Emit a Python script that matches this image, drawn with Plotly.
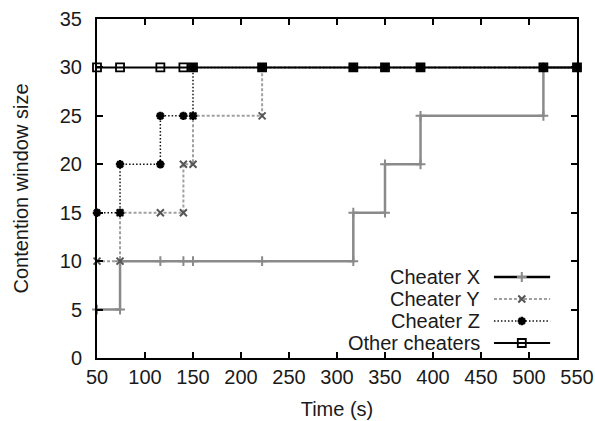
import plotly.graph_objects as go

# Contention window size of each cheating node over time (step traces)
time_x = [50, 74, 74, 116, 140, 150, 222, 317, 317, 350, 350, 387, 387, 515, 515, 550]
cw_x = [5, 5, 10, 10, 10, 10, 10, 10, 15, 15, 20, 20, 25, 25, 30, 30]

time_y = [50, 74, 74, 116, 140, 140, 150, 150, 222, 222, 317, 350, 387, 515, 550]
cw_y = [10, 10, 15, 15, 15, 20, 20, 25, 25, 30, 30, 30, 30, 30, 30]

time_z = [50, 74, 74, 116, 116, 140, 150, 150, 222, 317, 350, 387, 515, 550]
cw_z = [15, 15, 20, 20, 25, 25, 25, 30, 30, 30, 30, 30, 30, 30]

time_other = [50, 74, 116, 140, 150, 222, 317, 350, 387, 515, 550]
cw_other = [30, 30, 30, 30, 30, 30, 30, 30, 30, 30, 30]

series_names = ["Cheater X", "Cheater Y", "Cheater Z", "Other cheaters"]
x_ticks = [50, 100, 150, 200, 250, 300, 350, 400, 450, 500, 550]
y_ticks = [0, 5, 10, 15, 20, 25, 30, 35]

FONT = "Liberation Sans, Arial, Helvetica, sans-serif"
TEXT = "#1a1a1a"

styles = [
    dict(line=dict(color="#8a8a8a", width=2.5),
         marker=dict(symbol="cross-thin-open", size=7, color="#8a8a8a",
                     line=dict(color="#8a8a8a", width=2))),
    dict(line=dict(color="#a0a0a0", width=2, dash="3px,2px"),
         marker=dict(symbol="x-thin-open", size=7, color="#555555",
                     line=dict(color="#555555", width=2))),
    dict(line=dict(color="#111111", width=1.5, dash="1.5px,2px"),
         marker=dict(symbol="asterisk-open", size=7, color="#000000",
                     line=dict(color="#000000", width=2.5))),
    dict(line=dict(color="#000000", width=2),
         marker=dict(symbol="square-open", size=8, color="#000000",
                     line=dict(color="#000000", width=1.8))),
]
legend_line_colors = ["#000000", "#a0a0a0", "#111111", "#000000"]

data = [(time_x, cw_x), (time_y, cw_y), (time_z, cw_z), (time_other, cw_other)]

fig = go.Figure()
for (t, cw), name, st in zip(data, series_names, styles):
    fig.add_trace(go.Scatter(
        x=t, y=cw, name=name, mode="lines+markers",
        line=st["line"], marker=st["marker"], cliponaxis=False, showlegend=False,
    ))

# Key in the lower right: label text on the left, line sample on the right
key_rows = [0.2389, 0.1740, 0.1091, 0.0442]
for name, st, lc, yk in zip(series_names, styles, legend_line_colors, key_rows):
    fig.add_annotation(x=0.802, y=yk, xref="paper", yref="paper", text=name,
                       showarrow=False, xanchor="right", yanchor="middle",
                       font=dict(family=FONT, size=20, color=TEXT))
    line = dict(st["line"])
    line["color"] = lc
    fig.add_trace(go.Scatter(
        x=[0.827, 0.944], y=[yk, yk], xaxis="x2", yaxis="y2", mode="lines",
        line=line, showlegend=False, hoverinfo="skip"))
    fig.add_trace(go.Scatter(
        x=[0.885], y=[yk], xaxis="x2", yaxis="y2", mode="markers",
        marker=st["marker"], showlegend=False, hoverinfo="skip"))

axis_common = dict(
    showline=True, linecolor="#000000", linewidth=2, mirror="allticks",
    ticks="inside", ticklen=6, tickwidth=2, tickcolor="#000000",
    showgrid=False, zeroline=False, automargin=False,
    tickfont=dict(family=FONT, size=20, color=TEXT),
)

fig.update_layout(
    width=595, height=421,
    margin=dict(l=97, r=18, t=19, b=63),
    paper_bgcolor="white", plot_bgcolor="white",
    font=dict(family=FONT, size=20, color=TEXT),
    xaxis=dict(range=[50, 550], tickvals=x_ticks, ticklabelstandoff=0,
               title=dict(text="Time (s)", font=dict(family=FONT, size=20, color=TEXT)),
               **axis_common),
    yaxis=dict(range=[0, 35], tickvals=y_ticks, ticklabelstandoff=9,
               title=dict(text="Contention window size", standoff=26,
                          font=dict(family=FONT, size=20, color=TEXT)),
               **axis_common),
    xaxis2=dict(range=[0, 1], overlaying="x", visible=False),
    yaxis2=dict(range=[0, 1], overlaying="y", visible=False),
)

fig.write_html("out.html")
